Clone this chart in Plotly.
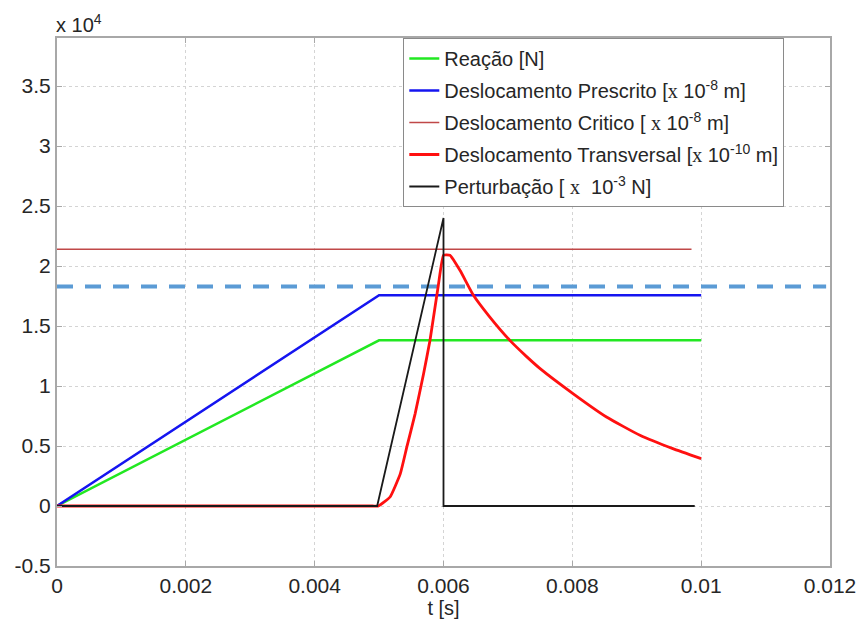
import plotly.graph_objects as go

# ---- data (y values) ----
t_reacao = [0, 0.005, 0.01]
y_reacao = [0, 13810, 13810]

t_prescrito = [0, 0.005, 0.01]
y_prescrito = [0, 17560, 17560]

t_critico = [0, 0.00985]
y_critico = [21400, 21400]

t_transversal = [0, 0.0045, 0.0049, 0.00499, 0.00517, 0.00533, 0.00543, 0.00556, 0.00569, 0.00579,
                 0.00592, 0.00600, 0.00610, 0.00626, 0.00646, 0.00671, 0.00703,
                 0.00729, 0.00750, 0.00801, 0.00853, 0.00905, 0.00956, 0.01]
y_transversal = [0, 0, 0, 0, 750, 2700, 4900, 7700, 11000, 13800,
                 18400, 20900, 20900, 19600, 17600, 15800, 13800,
                 12450, 11450, 9370, 7420, 5890, 4780, 3950]

t_perturbacao = [0, 0.00497, 0.00600, 0.00600, 0.0099]
y_perturbacao = [0, 0, 24000, 0, 0]

t_limite = [0, 0.01194]
y_limite = [18300, 18300]

x_ticks = [0, 0.002, 0.004, 0.006, 0.008, 0.01, 0.012]
x_ticktext = ["0", "0.002", "0.004", "0.006", "0.008", "0.01", "0.012"]
y_ticks = [-5000, 0, 5000, 10000, 15000, 20000, 25000, 30000, 35000]
y_ticktext = ["-0.5", "0", "0.5", "1", "1.5", "2", "2.5", "3", "3.5"]

X = "<span style='font-family:Liberation Serif'>x</span>"
names = [
    "Reação [N]",
    "Deslocamento Prescrito [" + X + " 10<sup>-8</sup> m]",
    "Deslocamento Critico [ " + X + " 10<sup>-8</sup> m]",
    "Deslocamento Transversal [" + X + " 10<sup>-10</sup> m]",
    "Perturbação [ " + X + "  10<sup>-3</sup> N]",
]

fig = go.Figure()

fig.add_trace(go.Scatter(x=t_limite, y=y_limite, mode="lines", showlegend=False,
                         line=dict(color="#5b9bd5", width=4, dash="16px,12px"),
                         hoverinfo="skip"))
fig.add_trace(go.Scatter(x=t_reacao, y=y_reacao, mode="lines", name=names[0], legendgroup="g1",
                         line=dict(color="#22e822", width=2.5)))
fig.add_trace(go.Scatter(x=t_prescrito, y=y_prescrito, mode="lines", name=names[1], legendgroup="g2",
                         line=dict(color="#1515f0", width=2.5)))
fig.add_trace(go.Scatter(x=t_critico, y=y_critico, mode="lines", name=names[2], legendgroup="g3",
                         line=dict(color="#c04848", width=1.5)))
fig.add_trace(go.Scatter(x=t_transversal, y=y_transversal, mode="lines", name=names[3], legendgroup="g4",
                         line=dict(color="#ff1010", width=2.8, shape="spline", smoothing=0.4)))
fig.add_trace(go.Scatter(x=t_perturbacao, y=y_perturbacao, mode="lines", name=names[4], legendgroup="g5",
                         line=dict(color="#1a1a1a", width=1.8)))

axis_common = dict(
    showline=True, linecolor="#a8a8a8", linewidth=2, mirror="ticks",
    ticks="inside", ticklen=5, tickcolor="#a8a8a8",
    showgrid=True, gridcolor="#d4d4d4", griddash="dot", gridwidth=1,
    zeroline=False, automargin=False,
    tickfont=dict(family="Arial, Liberation Sans", size=21, color="#262626"),
)

fig.update_layout(
    width=856, height=613,
    margin=dict(l=49, r=34, t=30, b=55, autoexpand=False),
    paper_bgcolor="white", plot_bgcolor="white",
    font=dict(family="Arial, Liberation Sans", color="#262626"),
    xaxis=dict(range=[0, 0.012], tickvals=x_ticks, ticktext=x_ticktext,
               title=dict(text="t [s]", font=dict(size=20, color="#262626"), standoff=0),
               **axis_common),
    yaxis=dict(range=[-5000, 39000], tickvals=y_ticks, ticktext=y_ticktext, **axis_common),
    legend=dict(x=0.448, y=1.0, xanchor="left", yanchor="top",
                bgcolor="white", bordercolor="#8a8a8a", borderwidth=1,
                font=dict(family="Arial, Liberation Sans", size=20, color="#262626"),
                itemwidth=30, tracegroupgap=3, traceorder="grouped"),
    annotations=[dict(text="x 10<sup>4</sup>", xref="paper", yref="paper", x=0, y=1,
                      xanchor="left", yanchor="bottom", xshift=-3, yshift=0, showarrow=False,
                      font=dict(family="Arial, Liberation Sans", size=20, color="#262626"))],
)

fig.write_html("out.html")
